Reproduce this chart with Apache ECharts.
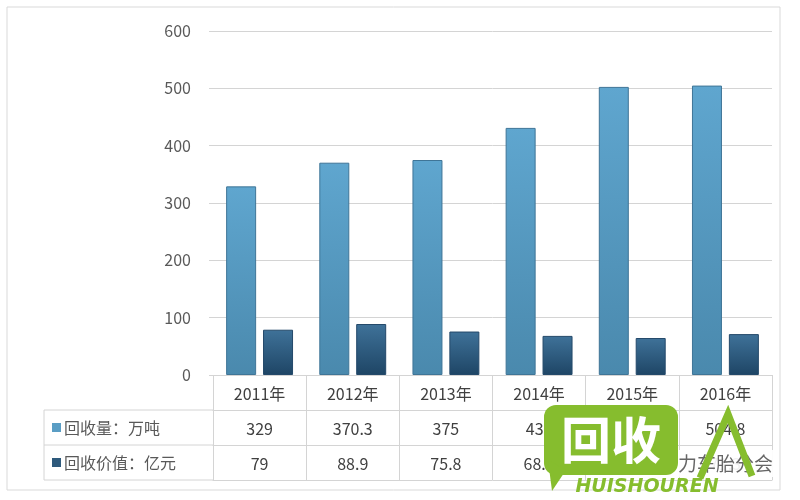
<!DOCTYPE html>
<html><head><meta charset="utf-8">
<script src="https://cdn.jsdelivr.net/npm/echarts@6/dist/echarts.min.js"></script>
<style>html,body{margin:0;padding:0;background:#fff}#c{width:800px;height:500px}</style>
</head><body><div id="c"></div>
<script>
const categories = ['2011年','2012年','2013年','2014年','2015年','2016年'];
const volume = [329, 370.3, 375, 431, 502.5, 504.8];
const value = [79, 88.9, 75.8, 68.2, 64.5, 71.3];
const seriesNames = ['回收量：万吨','回收价值：亿元'];
const yTicks = [0,100,200,300,400,500,600];

const chart = echarts.init(document.getElementById('c'));
const FONT = '"Liberation Sans Narrow","Noto Sans CJK SC",sans-serif';
const LINE = '#d4d4d4';
const ROW = 35;
function tableAxis(offset, fmt, show){
  return {
    type:'category', data:categories, position:'bottom', offset:offset, gridIndex:0,
    axisLine:{show:true, lineStyle:{color:LINE, width:1}},
    axisTick:{show:show, length:ROW, interval:0, lineStyle:{color:LINE}},
    axisLabel:{show:show, interval:0, margin:11, color:'#404040', fontSize:16, fontFamily:FONT,
      formatter: fmt},
    splitLine:{show:false}
  };
}
const blueGrad = new echarts.graphic.LinearGradient(0,0,0,1,[{offset:0,color:'#5fa6cf'},{offset:1,color:'#4a89ad'}]);
const darkGrad = new echarts.graphic.LinearGradient(0,0,0,1,[{offset:0,color:'#3f7299'},{offset:1,color:'#1e4565'}]);
const G = '#86bd2e';

chart.setOption({
  animation:false,
  grid:{left:213, right:28, top:31, bottom:125},
  xAxis:[
    tableAxis(0, v=>v, true),
    tableAxis(ROW, (v,i)=>String(volume[i]), true),
    tableAxis(ROW*2, (v,i)=>String(value[i]), true),
    tableAxis(ROW*3, v=>'', false)
  ],
  yAxis:{type:'value', min:yTicks[0], max:yTicks[yTicks.length-1], interval:100,
    axisLine:{show:false}, axisTick:{show:true, length:4, lineStyle:{color:LINE}},
    axisLabel:{color:'#595959', fontSize:16, fontFamily:FONT, margin:22},
    splitLine:{lineStyle:{color:LINE}}},
  series:[
    {name:seriesNames[0], type:'bar', data:volume, barWidth:30, barGap:'23%',
      itemStyle:{color:blueGrad, borderColor:'#3f7597', borderWidth:1}},
    {name:seriesNames[1], type:'bar', data:value, barWidth:30,
      itemStyle:{color:darkGrad, borderColor:'#24496a', borderWidth:1}}
  ],
  graphic:[
    {type:'rect', shape:{x:7,y:7,width:773,height:483}, style:{fill:'none', stroke:'#d9d9d9', lineWidth:1}, silent:true},
    {type:'line', shape:{x1:44,y1:410,x2:213,y2:410}, style:{stroke:LINE}},
    {type:'line', shape:{x1:44,y1:445,x2:213,y2:445}, style:{stroke:LINE}},
    {type:'line', shape:{x1:44,y1:480,x2:213,y2:480}, style:{stroke:LINE}},
    {type:'line', shape:{x1:44,y1:410,x2:44,y2:480}, style:{stroke:LINE}},
    {type:'rect', shape:{x:52,y:423,width:9,height:9}, style:{fill:'#5a9dc4'}},
    {type:'text', x:64, y:427.5, style:{text:seriesNames[0], fill:'#595959', font:'16px '+FONT, verticalAlign:'middle'}},
    {type:'rect', shape:{x:52,y:458,width:9,height:9}, style:{fill:'#2e5a7c'}},
    {type:'text', x:64, y:462.5, style:{text:seriesNames[1], fill:'#595959', font:'16px '+FONT, verticalAlign:'middle'}},
    {type:'rect', z:90, shape:{x:600,y:450,width:174,height:27}, style:{fill:'rgba(255,255,255,0.92)'}},
    {type:'text', z:91, x:773, y:464, style:{text:'力车胎分会', fill:'#666', font:'19px "Noto Sans CJK SC"', align:'right', verticalAlign:'middle'}},
    // watermark logo
    {type:'rect', z:100, shape:{x:544,y:405,width:134,height:70,r:12}, style:{fill:G}},
    {type:'polygon', z:100, shape:{points:[[548,460],[566,470],[552,491]]}, style:{fill:G}},
    {type:'text', z:101, x:611, y:440, style:{text:'回收', fill:'#fff', font:'bold 50px "Noto Sans CJK SC"', align:'center', verticalAlign:'middle'}},
    {type:'polyline', z:100, shape:{points:[[700,478],[728,414],[752,476]]}, style:{stroke:G, lineWidth:7, fill:'none'}},
    {type:'text', z:101, x:647, y:487, style:{text:'HUISHOUREN', fill:G, font:'italic bold 19px "DejaVu Sans"', align:'center', verticalAlign:'middle'}}
  ]
});
</script></body></html>
